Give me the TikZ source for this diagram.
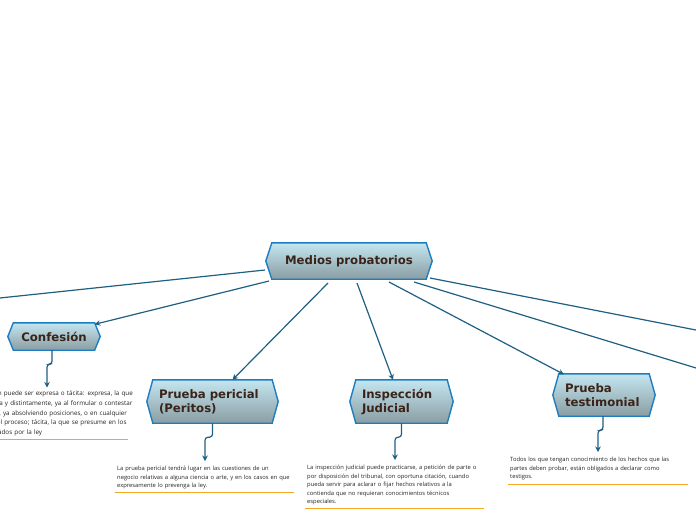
\documentclass[tikz,border=0pt]{standalone}
\usepackage{fontspec}
\setmainfont{Open Sans}
\newfontfamily\boxfont{DejaVu Sans}
\usetikzlibrary{arrows.meta}
\pgfdeclarelayer{background}
\pgfsetlayers{background,main}
\definecolor{edgeblue}{HTML}{1E5F82}
\definecolor{borderblue}{HTML}{1C7EC0}
\definecolor{boxtop}{HTML}{C4E6F0}
\definecolor{boxbot}{HTML}{8A9DA3}
\definecolor{labelbrown}{HTML}{3A2419}
\definecolor{notelinec}{HTML}{F5A623}
\definecolor{notetext}{HTML}{222222}
\tikzset{
  topic/.style={inner sep=0pt, text=labelbrown, font=\boxfont\bfseries\fontsize{11.7}{14}\selectfont},
  twoline/.style={inner xsep=12pt, align=left},
  conn/.style={draw=edgeblue, line width=1.2pt, -{Stealth[length=5.5pt,width=5.5pt]}},
  plainconn/.style={draw=edgeblue, line width=1.2pt},
  stemconn/.style={conn, rounded corners=3pt},
  note/.style={anchor=north west, inner xsep=2pt, inner ysep=0pt, align=left, text=notetext, font=\fontsize{5.8}{8.5}\selectfont},
  bignote/.style={note, font=\fontsize{6.3}{9.75}\selectfont},
  noteline/.style={draw=notelinec, line width=1.3pt},
  hexfill/.style={draw=borderblue, line width=1.4pt, top color=boxtop, bottom color=boxbot, line join=miter}
}
\newcommand\hexaround[2]{%
  \begin{pgfonlayer}{background}
  \path[hexfill] (#1.west) -- ([xshift=#2]#1.north west) -- ([xshift=-#2]#1.north east) -- (#1.east)
    -- ([xshift=-#2]#1.south east) -- ([xshift=#2]#1.south west) -- cycle;
  \end{pgfonlayer}}
\begin{document}
\begin{tikzpicture}[x=1pt,y=-1pt]
\useasboundingbox (0,0) rectangle (696,520);
% topic nodes
\node[topic, minimum width=166pt, minimum height=36pt] (main) at (349,261) {Medios probatorios};
\hexaround{main}{6pt}
\node[topic, minimum width=92pt, minimum height=27pt] (conf) at (54,336.5) {Confesión};
\hexaround{conf}{5.5pt}
\node[topic, twoline, text width=107pt, minimum height=43pt] (peric) at (212.5,401.5) {Prueba pericial\\(Peritos)};
\hexaround{peric}{6pt}
\node[topic, twoline, text width=79pt, minimum height=43pt] (insp) at (401.5,401.5) {Inspección\\Judicial};
\hexaround{insp}{6pt}
\node[topic, twoline, text width=78pt, minimum height=42pt] (testi) at (604,395) {Prueba\\testimonial};
\hexaround{testi}{6pt}
% off-canvas ends
\coordinate (offL) at (-40,302.2);
\coordinate (offR1) at (720,334.7);
\coordinate (offR2) at (720,375.3);
% notes
\node[bignote, text width=185pt] (confnote) at (-38,390.5) {La confesión puede ser expresa o tácita: expresa, la que\\se hace clara y distintamente, ya al formular o contestar\\la demanda, ya absolviendo posiciones, o en cualquier\\otro acto del proceso; tácita, la que se presume en los\\casos señalados por la ley};
\node[note, text width=175pt] (pericnote) at (115,466) {La prueba pericial tendrá lugar en las cuestiones de un\\negocio relativas a alguna ciencia o arte, y en los casos en que\\expresamente lo prevenga la ley.};
\node[note, text width=175pt] (inspnote) at (305,465) {La inspección judicial puede practicarse, a petición de parte o\\por disposición del tribunal, con oportuna citación, cuando\\pueda servir para aclarar o fijar hechos relativos a la\\contienda que no requieran conocimientos técnicos\\especiales.};
\node[note, text width=176pt] (testinote) at (508,457) {Todos los que tengan conocimiento de los hechos que las\\partes deben probar, están obligados a declarar como\\testigos.};
% note underlines
\draw[noteline] ([shift={(0,3)}]confnote.south west) -- ([shift={(166,3)}]confnote.south west);
\draw[noteline] ([shift={(0,3.5)}]pericnote.south west) -- ([shift={(0,3.5)}]pericnote.south east);
\draw[noteline] ([shift={(0,3.5)}]inspnote.south west) -- ([shift={(0,3.5)}]inspnote.south east);
\draw[noteline] ([shift={(0,4)}]testinote.south west) -- ([shift={(0,4)}]testinote.south east);
% main connectors
\draw[plainconn] ([shift={(-84,9)}]main.center) -- (offL);
\draw[conn] ([shift={(-80,20)}]main.center) -- ([shift={(-5.5,1.5)}]conf.north east);
\draw[conn] ([shift={(-21,22)}]main.center) -- ([shift={(20,0)}]peric.north);
\draw[conn] ([shift={(8,22)}]main.center) -- ([shift={(-8.5,0)}]insp.north);
\draw[conn] ([shift={(40,21)}]main.center) -- ([shift={(11,0.5)}]testi.north west);
\draw[plainconn] ([shift={(81,17)}]main.center) -- (offR1);
\draw[plainconn] ([shift={(65,21)}]main.center) -- (offR2);
% stems
\draw[stemconn] ([shift={(-2,0)}]conf.south) -- ++(0,14) -| ([shift={(85,-3)}]confnote.north west);
\draw[stemconn] ([shift={(0,0)}]peric.south) -- ++(0,14) -| ([shift={(90,-5)}]pericnote.north west);
\draw[stemconn] ([shift={(0,0)}]insp.south) -- ++(0,14) -| ([shift={(90,-5)}]inspnote.north west);
\draw[stemconn] ([shift={(-1,0)}]testi.south) -- ++(0,14) -| ([shift={(90,-5)}]testinote.north west);
\end{tikzpicture}
\end{document}
